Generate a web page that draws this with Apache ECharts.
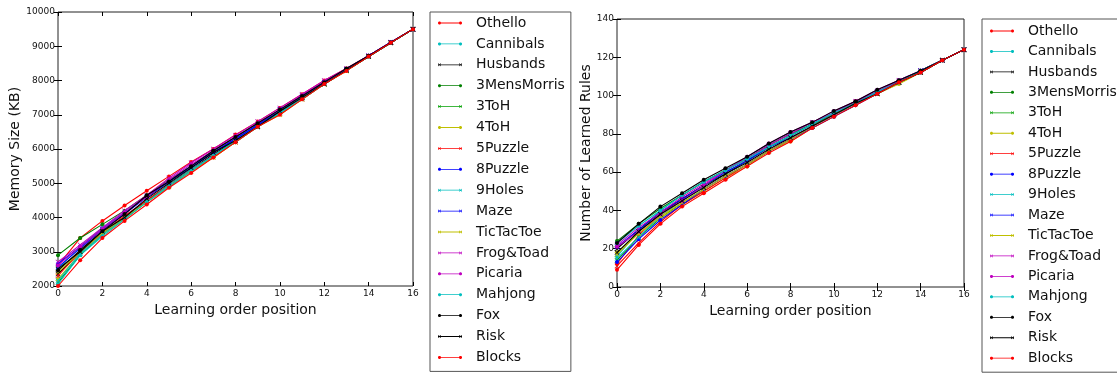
<!DOCTYPE html>
<html>
<head>
<meta charset="utf-8">
<script src="https://cdn.jsdelivr.net/npm/echarts@6/dist/echarts.min.js"></script>
<style>
html,body{margin:0;padding:0;background:#fff;}
#c{width:1117px;height:373px;}
</style>
</head>
<body>
<div id="c"></div>
<script>
// ---- data ----
const positions = [0,1,2,3,4,5,6,7,8,9,10,11,12,13,14,15,16];
const games = ['Othello','Cannibals','Husbands','3MensMorris','3ToH','4ToH','5Puzzle','8Puzzle','9Holes','Maze','TicTacToe','Frog&Toad','Picaria','Mahjong','Fox','Risk','Blocks'];
const markerKinds = ['dot','dot','x','dot','x','dot','x','dot','x','x','x','x','dot','dot','dot','x','dot'];
const seriesColors = ['#ff0000','#00bfbf','#000000','#008000','#00a000','#bfbf00','#ff0000','#0000ff','#00bfbf','#0000ff','#bfbf00','#bf00bf','#bf00bf','#00bfbf','#000000','#000000','#ff0000'];

const memOthello     = [2600,3400,3900,4350,4780,5200,5620,6000,6420,6800,7200,7600,8000,8350,8720,9120,9500];
const memCannibals   = [2500,3150,3700,4150,4600,5050,5500,5900,6300,6700,7100,7550,7950,8300,8700,9100,9500];
const memHusbands    = [2350,3000,3550,4000,4500,4950,5400,5850,6250,6650,7100,7500,7900,8300,8700,9100,9500];
const mem3MensMorris = [2900,3400,3800,4200,4650,5100,5500,5950,6350,6750,7150,7550,7950,8330,8720,9110,9500];
const mem3ToH        = [2100,2900,3500,4000,4450,4950,5400,5800,6250,6650,7050,7500,7900,8300,8700,9100,9500];
const mem4ToH        = [2200,2950,3500,3950,4450,4900,5350,5750,6200,6650,7050,7450,7900,8300,8700,9100,9500];
const mem5Puzzle     = [2300,3000,3550,4050,4500,4950,5400,5800,6200,6650,7050,7450,7900,8300,8700,9100,9500];
const mem8Puzzle     = [2650,3150,3650,4150,4600,5050,5500,5900,6300,6700,7150,7550,7950,8330,8720,9110,9500];
const mem9Holes      = [2150,2950,3500,4000,4450,4950,5400,5800,6250,6650,7050,7500,7900,8300,8700,9100,9500];
const memMaze        = [2550,3100,3650,4100,4600,5050,5450,5900,6300,6700,7150,7550,7950,8330,8720,9120,9500];
const memTicTacToe   = [2400,3000,3550,4000,4450,4900,5350,5750,6200,6650,7000,7450,7900,8280,8700,9100,9500];
const memFrogToad    = [2700,3200,3700,4200,4650,5150,5600,6000,6400,6800,7200,7600,8000,8350,8720,9120,9500];
const memPicaria     = [2600,3150,3650,4150,4600,5100,5550,5950,6350,6750,7150,7550,7950,8330,8720,9110,9500];
const memMahjong     = [2050,2900,3450,3950,4450,4900,5350,5800,6200,6650,7050,7450,7900,8300,8700,9100,9500];
const memFox         = [2450,3050,3600,4100,4650,5050,5500,5950,6350,6750,7150,7550,7950,8350,8720,9110,9500];
const memRisk        = [2500,3000,3600,4000,4550,5000,5450,5900,6250,6650,7100,7500,7900,8300,8700,9100,9500];
const memBlocks      = [2000,2750,3400,3900,4380,4870,5300,5750,6200,6650,7000,7450,7900,8280,8700,9100,9500];

const rulOthello     = [12,27,38,46,53,60,66,73,79,85,91,97,102,107,113,118.5,124];
const rulCannibals   = [16,29,40,48,55,61,67,74,80,85,91,96,102,108,113,118.5,124];
const rulHusbands    = [20,30,39,46,53,59,66,73,79,85,90,96,102,107,113,118.5,124];
const rul3MensMorris = [24,33,41,48,55,61,67,74,80,85,91,96,102,107,113,118.5,124];
const rul3ToH        = [14,26,36,44,51,58,64,71,77,84,90,96,101,107,112,118.5,124];
const rul4ToH        = [18,28,36,43,50,57,63,71,76,83,89,95,101,106,112,118.5,124];
const rul5Puzzle     = [11,23,34,43,50,57,64,71,77,84,90,96,101,107,112,118.5,124];
const rul8Puzzle     = [13,25,35,43,51,58,64,71,77,83,89,95,101,107,112,118.5,124];
const rul9Holes      = [15,26,37,45,53,60,66,73,79,85,91,96,102,107,113,118.5,124];
const rulMaze        = [21,30,39,46,53,60,66,73,78,84,90,96,102,107,113,118.5,124];
const rulTicTacToe   = [17,28,37,44,51,58,64,71,77,84,90,96,101,107,112,118.5,124];
const rulFrogToad    = [22,31,39,47,54,61,67,74,80,86,91,97,102,108,113,118.5,124];
const rulPicaria     = [21,29,38,45,53,61,68,75,81,86,92,97,103,108,113,118.5,124];
const rulMahjong     = [23,32,40,48,55,61,67,73,79,85,91,96,102,107,113,118.5,124];
const rulFox         = [23,33,42,49,56,62,68,75,81,86,92,97,103,108,113,118.5,124];
const rulRisk        = [18,29,38,45,52,59,65,72,78,84,90,96,101,107,112,118.5,124];
const rulBlocks      = [9,22,33,42,49,56,63,70,76,83,89,95,101,107,112,118.5,124];

const memoryData = [memOthello,memCannibals,memHusbands,mem3MensMorris,mem3ToH,mem4ToH,mem5Puzzle,mem8Puzzle,mem9Holes,memMaze,memTicTacToe,memFrogToad,memPicaria,memMahjong,memFox,memRisk,memBlocks];
const rulesData = [rulOthello,rulCannibals,rulHusbands,rul3MensMorris,rul3ToH,rul4ToH,rul5Puzzle,rul8Puzzle,rul9Holes,rulMaze,rulTicTacToe,rulFrogToad,rulPicaria,rulMahjong,rulFox,rulRisk,rulBlocks];

const leftTitleY = 'Memory Size (KB)';
const rightTitleY = 'Number of Learned Rules';
const titleX = 'Learning order position';

// ---- styling ----
const FONT = 'DejaVu Sans';
const X_SYMBOL = 'path://M0,1 L1,0 L10,9 L9,10 Z M0,9 L9,0 L10,1 L1,10 Z';
const ICON_DOT = 'path://M0,2.6H24V3.4H0Z M0.9,1.5 L2.1,1.5 L3,2.4 L3,3.6 L2.1,4.5 L0.9,4.5 L0,3.6 L0,2.4 Z M21.9,1.5 L23.1,1.5 L24,2.4 L24,3.6 L23.1,4.5 L21.9,4.5 L21,3.6 L21,2.4 Z';
const ICON_X = 'path://M0,2.6H24V3.4H0Z M0,1.9 L0.4,1.5 L3,4.1 L2.6,4.5 Z M0,4.1 L2.6,1.5 L3,1.9 L0.4,4.5 Z M21,1.9 L21.4,1.5 L24,4.1 L23.6,4.5 Z M21,4.1 L23.6,1.5 L24,1.9 L21.4,4.5 Z';

function xAxes(gridIndex) {
  const base = {
    type: 'value', gridIndex, min: 0, max: 16, interval: 2,
    axisLine: {show: false},
    axisTick: {show: true, inside: true, length: 4, lineStyle: {color: '#000', width: 1}},
    splitLine: {show: false}
  };
  return [
    Object.assign({}, base, {
      position: 'bottom', name: titleX, nameLocation: 'middle', nameGap: 16,
      nameTextStyle: {fontFamily: FONT, fontSize: 14, color: '#111'},
      axisLabel: {fontFamily: FONT, fontSize: 9, color: '#111', margin: 3, formatter: v => String(v)}
    }),
    Object.assign({}, base, {position: 'top', axisLabel: {show: false}})
  ];
}
function yAxes(gridIndex, min, max, interval, name, nameGap) {
  const base = {
    type: 'value', gridIndex, min, max, interval,
    axisLine: {show: false},
    axisTick: {show: true, inside: true, length: 4, lineStyle: {color: '#000', width: 1}},
    splitLine: {show: false}
  };
  return [
    Object.assign({}, base, {
      position: 'left', name, nameLocation: 'middle', nameGap,
      nameTextStyle: {fontFamily: FONT, fontSize: 14, color: '#111'},
      axisLabel: {fontFamily: FONT, fontSize: 9, color: '#111', margin: 3, formatter: v => String(v)}
    }),
    Object.assign({}, base, {position: 'right', axisLabel: {show: false}})
  ];
}

function makeSeries(dataSets, xi, yi) {
  return games.map((g, i) => ({
    type: 'line', name: g, xAxisIndex: xi, yAxisIndex: yi,
    data: positions.map((p, j) => [p, dataSets[i][j]]),
    color: seriesColors[i],
    lineStyle: {width: 1.1, color: seriesColors[i]},
    itemStyle: {color: seriesColors[i], borderWidth: 0},
    symbol: markerKinds[i] === 'x' ? X_SYMBOL : 'circle',
    symbolSize: markerKinds[i] === 'x' ? 5 : 4,
    showSymbol: true,
    emphasis: {disabled: true},
    z: 2 + i
  }));
}

function makeLegend(left, top, gap, pad) {
  return {
    orient: 'vertical', left, top,
    data: games.map((g, i) => ({name: g, icon: markerKinds[i] === 'x' ? ICON_X : ICON_DOT})),
    itemWidth: 24, itemHeight: 3, itemGap: gap,
    padding: pad,
    borderColor: '#555', borderWidth: 1, borderRadius: 0,
    backgroundColor: '#fff',
    selectedMode: false,
    itemStyle: {borderWidth: 0},
    textStyle: {fontFamily: FONT, fontSize: 14, color: '#111', lineHeight: 16, padding: [0, 0, 0, 9]}
  };
}

const chart = echarts.init(document.getElementById('c'), null, {renderer: 'canvas'});
chart.setOption({
  animation: false,
  backgroundColor: '#fff',
  grid: [
    {left: 58, top: 12, width: 355, height: 274, show: true, borderColor: '#222', borderWidth: 1, backgroundColor: 'transparent'},
    {left: 617, top: 19, width: 347, height: 268, show: true, borderColor: '#222', borderWidth: 1, backgroundColor: 'transparent'}
  ],
  xAxis: [...xAxes(0), ...xAxes(1)],
  yAxis: [...yAxes(0, 2000, 10000, 1000, leftTitleY, 36), ...yAxes(1, 0, 140, 20, rightTitleY, 23)],
  legend: [
    makeLegend(430, 12, 4.9, [3, 6, 6, 8]),
    makeLegend(982, 19, 4.45, [4, 6, 6, 8])
  ],
  series: [...makeSeries(memoryData, 0, 0), ...makeSeries(rulesData, 2, 2)]
});
</script>
</body>
</html>
